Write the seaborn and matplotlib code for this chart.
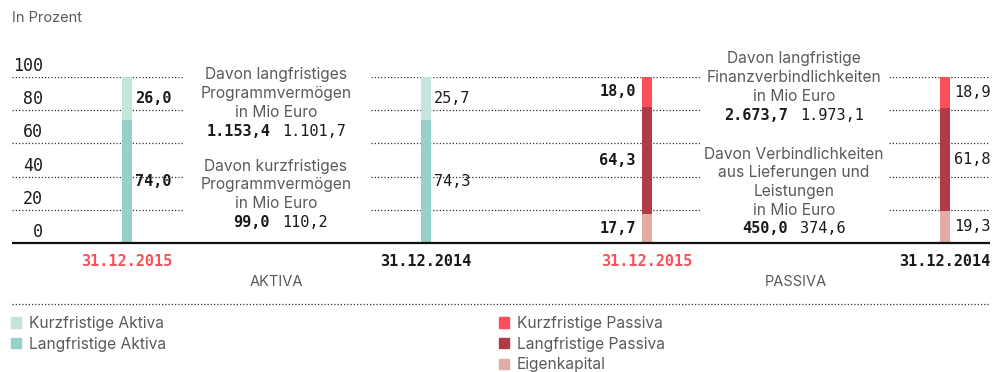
import matplotlib
matplotlib.use("Agg")
import matplotlib.pyplot as plt
from matplotlib.patches import Patch
from matplotlib.transforms import ScaledTranslation
import seaborn as sns
import pandas as pd

# ---- data -------------------------------------------------------------
dates = ["31.12.2015", "31.12.2014"]
aktiva_kurz = [26.0, 25.7]
aktiva_lang = [74.0, 74.3]
passiva_kurz = [18.0, 18.9]
passiva_lang = [64.3, 61.8]
eigenkapital = [17.7, 19.3]

aktiva_labels_kurz = ["26,0", "25,7"]
aktiva_labels_lang = ["74,0", "74,3"]
passiva_labels_kurz = ["18,0", "18,9"]
passiva_labels_lang = ["64,3", "61,8"]
passiva_labels_eigen = ["17,7", "19,3"]

yticks = [0, 20, 40, 60, 80, 100]

prog_lang = ["1.153,4", "1.101,7"]
prog_kurz = ["99,0", "110,2"]
fin_lang = ["2.673,7", "1.973,1"]
verb_lul = ["450,0", "374,6"]

# ---- style ------------------------------------------------------------
sns.set_theme(style="white")
plt.rcParams["font.family"] = ["Inter", "DejaVu Sans"]

C_AK = "#c4e4de"
C_AL = "#97d0c9"
C_PK = "#fd4f5a"
C_PL = "#b13a46"
C_EK = "#e2aba3"
RED = "#fd4f5a"
GRAY = "#5a5a5a"
DARK = "#1a1a1a"
MONO = "DejaVu Sans Mono"
TXT = 10.5      # headings
NOTE = 11.2     # notes and legend

W, H = 999, 372
fig = plt.figure(figsize=(W / 100, H / 100), dpi=100)


def frac_x(px):
    return px / W


def frac_y(py):
    return 1 - py / H


def shift(ax, dy_px):
    return ax.transData + ScaledTranslation(0, dy_px / 100, fig.dpi_scale_trans)


y0_px, y100_px = 243, 77
ax_bottom = frac_y(y0_px)
ax_height = (y0_px - y100_px) / H

# one axes per side: Aktiva and Passiva
axA = fig.add_axes([frac_x(12), ax_bottom, frac_x(500 - 12), ax_height])
axP = fig.add_axes([frac_x(500), ax_bottom, frac_x(990 - 500), ax_height])

A0, AS = 127, 299   # Aktiva: first column centre, column step (px)
P0, PS = 647, 298   # Passiva
bar_w_px = 10

# stacked columns: draw cumulative totals, largest first
dfA = pd.DataFrame({
    "date": dates,
    "total": [k + l for k, l in zip(aktiva_kurz, aktiva_lang)],
    "lang": aktiva_lang,
})
dfP = pd.DataFrame({
    "date": dates,
    "total": [k + l + e for k, l, e in zip(passiva_kurz, passiva_lang, eigenkapital)],
    "lang_eigen": [l + e for l, e in zip(passiva_lang, eigenkapital)],
    "eigen": eigenkapital,
})

wA = bar_w_px / AS
wP = bar_w_px / PS
bar_kw = dict(saturation=1, linewidth=0)

sns.barplot(data=dfA, x="date", y="total", color=C_AK, width=wA, ax=axA,
            zorder=2, **bar_kw)
sns.barplot(data=dfA, x="date", y="lang", color=C_AL, width=wA, ax=axA,
            zorder=3, **bar_kw)
sns.barplot(data=dfP, x="date", y="total", color=C_PK, width=wP, ax=axP,
            zorder=2, **bar_kw)
sns.barplot(data=dfP, x="date", y="lang_eigen", color=C_PL, width=wP, ax=axP,
            zorder=3, **bar_kw)
sns.barplot(data=dfP, x="date", y="eigen", color=C_EK, width=wP, ax=axP,
            zorder=4, **bar_kw)

axA.set_xlim((12 - A0) / AS, (500 - A0) / AS)
axP.set_xlim((500 - P0) / PS, (990 - P0) / PS)
for ax in (axA, axP):
    ax.set_ylim(0, 100)
    ax.axis("off")

# dotted grid, interrupted where the notes sit
dot = dict(color="#333333", lw=0.9, linestyle=(0, (1, 1.6)), zorder=0)


def hgrid(ax, c0_px, step_px, ranges):
    for y in yticks[1:]:
        for a, b in ranges:
            ax.hlines(y, (a - c0_px) / step_px, (b - c0_px) / step_px, **dot)


hgrid(axA, A0, AS, [(12, 183), (371, 500)])
hgrid(axP, P0, PS, [(500, 700), (889, 990)])

# baseline
for ax in (axA, axP):
    xl = ax.get_xlim()
    ax.hlines(0, xl[0], xl[1], color="#111111", lw=1.6, zorder=5, clip_on=False)

# y tick labels sit above their grid lines
for y in yticks:
    axA.text((43 - A0) / AS, y, str(y), ha="right", va="bottom",
             fontsize=12, family=MONO, color=DARK, transform=shift(axA, 2))

# segment value labels
for i in range(2):
    weight = "bold" if i == 0 else "normal"
    x = i + 8 / AS
    axA.text(x, aktiva_lang[i] + aktiva_kurz[i] / 2, aktiva_labels_kurz[i],
             ha="left", va="center", fontsize=11, family=MONO, weight=weight, color=DARK)
    axA.text(x, aktiva_lang[i] / 2, aktiva_labels_lang[i],
             ha="left", va="center", fontsize=11, family=MONO, weight=weight, color=DARK)

for i in range(2):
    weight = "bold" if i == 0 else "normal"
    if i == 0:
        x, ha = -11 / PS, "right"
    else:
        x, ha = 1 + 9 / PS, "left"
    e, l, k = eigenkapital[i], passiva_lang[i], passiva_kurz[i]
    axP.text(x, e + l + k / 2, passiva_labels_kurz[i], ha=ha, va="center",
             fontsize=11, family=MONO, weight=weight, color=DARK)
    axP.text(x, e + l / 2, passiva_labels_lang[i], ha=ha, va="center",
             fontsize=11, family=MONO, weight=weight, color=DARK)
    axP.text(x, e / 2, passiva_labels_eigen[i], ha=ha, va="center",
             fontsize=11, family=MONO, weight=weight, color=DARK)

# dates under the columns
for ax in (axA, axP):
    for i, d in enumerate(dates):
        ax.text(i, 0, d, ha="center", va="top", fontsize=11, family=MONO,
                weight="bold", color=RED if i == 0 else DARK,
                transform=shift(ax, -11))


# figure-level text placed in pixel positions
def ftext(px, py, s, **kw):
    fig.text(frac_x(px), frac_y(py), s, **kw)


ftext(12, 18, "In Prozent", ha="left", va="center", fontsize=TXT, color=GRAY)
ftext(276, 282, "AKTIVA", ha="center", va="center", fontsize=TXT, color=GRAY)
ftext(796, 282, "PASSIVA", ha="center", va="center", fontsize=TXT, color=GRAY)

desc = dict(ha="center", va="center", fontsize=NOTE, color=GRAY)


def block(cx, lines, y_first, vals):
    y = y_first
    for ln in lines:
        ftext(cx, y, ln, **desc)
        y += 18.7
    ftext(cx - 6, y, vals[0], ha="right", va="center", fontsize=11, family=MONO,
          weight="bold", color=DARK)
    ftext(cx + 6, y, vals[1], ha="left", va="center", fontsize=11, family=MONO,
          color=DARK)


block(276, ["Davon langfristiges", "Programmvermögen", "in Mio Euro"], 75, prog_lang)
block(276, ["Davon kurzfristiges", "Programmvermögen", "in Mio Euro"], 166, prog_kurz)
block(794, ["Davon langfristige", "Finanzverbindlichkeiten", "in Mio Euro"], 59, fin_lang)
block(794, ["Davon Verbindlichkeiten", "aus Lieferungen und", "Leistungen",
            "in Mio Euro"], 154, verb_lul)

# separator above the legend
sep = fig.add_axes([0, 0, 1, 1], zorder=-1)
sep.set_xlim(0, W)
sep.set_ylim(H, 0)
sep.axis("off")
sep.hlines(304, 12, 990, **dot)

# legends
legA = [Patch(color=C_AK, label="Kurzfristige Aktiva"),
        Patch(color=C_AL, label="Langfristige Aktiva")]
legP = [Patch(color=C_PK, label="Kurzfristige Passiva"),
        Patch(color=C_PL, label="Langfristige Passiva"),
        Patch(color=C_EK, label="Eigenkapital")]
common = dict(frameon=False, fontsize=NOTE, handlelength=0.65, handleheight=0.65,
              handletextpad=0.5, labelspacing=0.36, borderaxespad=0,
              borderpad=0, labelcolor=GRAY)
fig.legend(handles=legA, loc="upper left",
           bbox_to_anchor=(frac_x(11), frac_y(316)), **common)
fig.legend(handles=legP, loc="upper left",
           bbox_to_anchor=(frac_x(499), frac_y(316)), **common)

fig.savefig("out.png", dpi=100)
